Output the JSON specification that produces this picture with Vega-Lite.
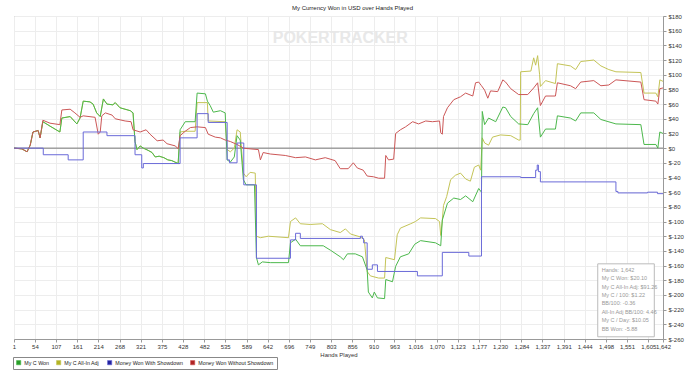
{
  "$schema": "https://vega.github.io/schema/vega-lite/v6.json",
  "width": 649,
  "height": 323,
  "autosize": {"type": "none"},
  "padding": {"left": 14, "top": 16, "right": 37, "bottom": 38},
  "background": "white",
  "title": {"text": "My Currency Won in USD over Hands Played", "fontSize": 6, "fontWeight": "normal", "color": "#222", "offset": 2, "dx": 14, "font": "Liberation Sans"},
  "config": {
    "font": "Liberation Sans",
    "view": {"stroke": "#aaa", "strokeWidth": 1},
    "axis": {"labelColor": "#333", "tickColor": "#999", "domainColor": "#999", "gridColor": "#ededed", "labelFont": "Liberation Sans", "titleFont": "Liberation Sans"}
  },
  "datasets": {
    "lines": [
      {"s":"My C Won","h":1,"v":0},{"s":"My C Won","h":21,"v":-1},{"s":"My C Won","h":34,"v":-5},{"s":"My C Won","h":42,"v":4},{"s":"My C Won","h":49,"v":22},{"s":"My C Won","h":62,"v":24},{"s":"My C Won","h":67,"v":14},{"s":"My C Won","h":74,"v":36},{"s":"My C Won","h":92,"v":30},{"s":"My C Won","h":117,"v":22},{"s":"My C Won","h":122,"v":41},{"s":"My C Won","h":143,"v":43},{"s":"My C Won","h":160,"v":33},{"s":"My C Won","h":168,"v":41},{"s":"My C Won","h":176,"v":64},{"s":"My C Won","h":193,"v":63},{"s":"My C Won","h":201,"v":60},{"s":"My C Won","h":210,"v":48},{"s":"My C Won","h":219,"v":43},{"s":"My C Won","h":227,"v":67},{"s":"My C Won","h":236,"v":60},{"s":"My C Won","h":251,"v":59},{"s":"My C Won","h":257,"v":62},{"s":"My C Won","h":269,"v":55},{"s":"My C Won","h":295,"v":51},{"s":"My C Won","h":302,"v":48},{"s":"My C Won","h":307,"v":9},{"s":"My C Won","h":312,"v":-2},{"s":"My C Won","h":320,"v":3},{"s":"My C Won","h":328,"v":0},{"s":"My C Won","h":340,"v":-3},{"s":"My C Won","h":350,"v":-6},{"s":"My C Won","h":358,"v":-12},{"s":"My C Won","h":368,"v":-11},{"s":"My C Won","h":380,"v":-13},{"s":"My C Won","h":390,"v":-16},{"s":"My C Won","h":400,"v":-17},{"s":"My C Won","h":416,"v":-21},{"s":"My C Won","h":421,"v":25},{"s":"My C Won","h":434,"v":36},{"s":"My C Won","h":459,"v":36},{"s":"My C Won","h":464,"v":75},{"s":"My C Won","h":485,"v":74},{"s":"My C Won","h":490,"v":64},{"s":"My C Won","h":497,"v":58},{"s":"My C Won","h":505,"v":49},{"s":"My C Won","h":523,"v":51},{"s":"My C Won","h":535,"v":48},{"s":"My C Won","h":540,"v":-16},{"s":"My C Won","h":548,"v":-19},{"s":"My C Won","h":558,"v":-12},{"s":"My C Won","h":565,"v":17},{"s":"My C Won","h":573,"v":11},{"s":"My C Won","h":581,"v":-43},{"s":"My C Won","h":588,"v":-50},{"s":"My C Won","h":609,"v":-50},{"s":"My C Won","h":614,"v":-149},{"s":"My C Won","h":619,"v":-159},{"s":"My C Won","h":629,"v":-155},{"s":"My C Won","h":649,"v":-156},{"s":"My C Won","h":695,"v":-156},{"s":"My C Won","h":700,"v":-129},{"s":"My C Won","h":713,"v":-124},{"s":"My C Won","h":725,"v":-133},{"s":"My C Won","h":783,"v":-133},{"s":"My C Won","h":801,"v":-139},{"s":"My C Won","h":826,"v":-148},{"s":"My C Won","h":834,"v":-152},{"s":"My C Won","h":844,"v":-144},{"s":"My C Won","h":864,"v":-144},{"s":"My C Won","h":882,"v":-148},{"s":"My C Won","h":894,"v":-166},{"s":"My C Won","h":897,"v":-196},{"s":"My C Won","h":907,"v":-204},{"s":"My C Won","h":912,"v":-196},{"s":"My C Won","h":920,"v":-204},{"s":"My C Won","h":938,"v":-205},{"s":"My C Won","h":941,"v":-179},{"s":"My C Won","h":958,"v":-182},{"s":"My C Won","h":966,"v":-161},{"s":"My C Won","h":978,"v":-148},{"s":"My C Won","h":999,"v":-144},{"s":"My C Won","h":1014,"v":-131},{"s":"My C Won","h":1029,"v":-126},{"s":"My C Won","h":1067,"v":-129},{"s":"My C Won","h":1080,"v":-133},{"s":"My C Won","h":1084,"v":-98},{"s":"My C Won","h":1097,"v":-75},{"s":"My C Won","h":1113,"v":-68},{"s":"My C Won","h":1130,"v":-70},{"s":"My C Won","h":1143,"v":-65},{"s":"My C Won","h":1161,"v":-73},{"s":"My C Won","h":1176,"v":-55},{"s":"My C Won","h":1183,"v":-60},{"s":"My C Won","h":1185,"v":50},{"s":"My C Won","h":1191,"v":32},{"s":"My C Won","h":1201,"v":41},{"s":"My C Won","h":1219,"v":36},{"s":"My C Won","h":1237,"v":56},{"s":"My C Won","h":1244,"v":55},{"s":"My C Won","h":1257,"v":43},{"s":"My C Won","h":1277,"v":33},{"s":"My C Won","h":1300,"v":32},{"s":"My C Won","h":1315,"v":47},{"s":"My C Won","h":1325,"v":55},{"s":"My C Won","h":1332,"v":15},{"s":"My C Won","h":1345,"v":26},{"s":"My C Won","h":1370,"v":26},{"s":"My C Won","h":1375,"v":44},{"s":"My C Won","h":1408,"v":41},{"s":"My C Won","h":1421,"v":37},{"s":"My C Won","h":1434,"v":48},{"s":"My C Won","h":1467,"v":48},{"s":"My C Won","h":1485,"v":39},{"s":"My C Won","h":1523,"v":33},{"s":"My C Won","h":1586,"v":32},{"s":"My C Won","h":1594,"v":5},{"s":"My C Won","h":1624,"v":5},{"s":"My C Won","h":1629,"v":0},{"s":"My C Won","h":1634,"v":22},{"s":"My C Won","h":1642,"v":20},

      {"s":"My C All-In Adj","h":1,"v":0},{"s":"My C All-In Adj","h":21,"v":-1},{"s":"My C All-In Adj","h":34,"v":-5},{"s":"My C All-In Adj","h":42,"v":4},{"s":"My C All-In Adj","h":49,"v":22},{"s":"My C All-In Adj","h":62,"v":24},{"s":"My C All-In Adj","h":67,"v":14},{"s":"My C All-In Adj","h":74,"v":36},{"s":"My C All-In Adj","h":92,"v":30},{"s":"My C All-In Adj","h":117,"v":22},{"s":"My C All-In Adj","h":122,"v":41},{"s":"My C All-In Adj","h":143,"v":43},{"s":"My C All-In Adj","h":160,"v":33},{"s":"My C All-In Adj","h":168,"v":41},{"s":"My C All-In Adj","h":176,"v":64},{"s":"My C All-In Adj","h":193,"v":63},{"s":"My C All-In Adj","h":201,"v":60},{"s":"My C All-In Adj","h":210,"v":48},{"s":"My C All-In Adj","h":219,"v":43},{"s":"My C All-In Adj","h":227,"v":67},{"s":"My C All-In Adj","h":236,"v":60},{"s":"My C All-In Adj","h":251,"v":59},{"s":"My C All-In Adj","h":257,"v":62},{"s":"My C All-In Adj","h":269,"v":55},{"s":"My C All-In Adj","h":295,"v":51},{"s":"My C All-In Adj","h":302,"v":48},{"s":"My C All-In Adj","h":307,"v":9},{"s":"My C All-In Adj","h":312,"v":-2},{"s":"My C All-In Adj","h":320,"v":3},{"s":"My C All-In Adj","h":328,"v":0},{"s":"My C All-In Adj","h":340,"v":-3},{"s":"My C All-In Adj","h":350,"v":-6},{"s":"My C All-In Adj","h":358,"v":-12},{"s":"My C All-In Adj","h":368,"v":-11},{"s":"My C All-In Adj","h":380,"v":-13},{"s":"My C All-In Adj","h":390,"v":-16},{"s":"My C All-In Adj","h":400,"v":-17},{"s":"My C All-In Adj","h":416,"v":-21},{"s":"My C All-In Adj","h":421,"v":22},{"s":"My C All-In Adj","h":434,"v":23},{"s":"My C All-In Adj","h":459,"v":23},{"s":"My C All-In Adj","h":464,"v":62},{"s":"My C All-In Adj","h":490,"v":62},{"s":"My C All-In Adj","h":492,"v":37},{"s":"My C All-In Adj","h":535,"v":36},{"s":"My C All-In Adj","h":540,"v":-2},{"s":"My C All-In Adj","h":548,"v":-5},{"s":"My C All-In Adj","h":558,"v":0},{"s":"My C All-In Adj","h":565,"v":25},{"s":"My C All-In Adj","h":573,"v":22},{"s":"My C All-In Adj","h":581,"v":-34},{"s":"My C All-In Adj","h":588,"v":-39},{"s":"My C All-In Adj","h":598,"v":-33},{"s":"My C All-In Adj","h":611,"v":-34},{"s":"My C All-In Adj","h":614,"v":-120},{"s":"My C All-In Adj","h":624,"v":-122},{"s":"My C All-In Adj","h":644,"v":-120},{"s":"My C All-In Adj","h":695,"v":-122},{"s":"My C All-In Adj","h":700,"v":-100},{"s":"My C All-In Adj","h":713,"v":-95},{"s":"My C All-In Adj","h":725,"v":-103},{"s":"My C All-In Adj","h":750,"v":-104},{"s":"My C All-In Adj","h":781,"v":-103},{"s":"My C All-In Adj","h":801,"v":-111},{"s":"My C All-In Adj","h":826,"v":-115},{"s":"My C All-In Adj","h":839,"v":-110},{"s":"My C All-In Adj","h":852,"v":-117},{"s":"My C All-In Adj","h":877,"v":-121},{"s":"My C All-In Adj","h":887,"v":-125},{"s":"My C All-In Adj","h":894,"v":-168},{"s":"My C All-In Adj","h":902,"v":-174},{"s":"My C All-In Adj","h":923,"v":-177},{"s":"My C All-In Adj","h":938,"v":-177},{"s":"My C All-In Adj","h":941,"v":-149},{"s":"My C All-In Adj","h":963,"v":-152},{"s":"My C All-In Adj","h":970,"v":-118},{"s":"My C All-In Adj","h":978,"v":-109},{"s":"My C All-In Adj","h":1004,"v":-103},{"s":"My C All-In Adj","h":1016,"v":-100},{"s":"My C All-In Adj","h":1029,"v":-95},{"s":"My C All-In Adj","h":1067,"v":-96},{"s":"My C All-In Adj","h":1077,"v":-100},{"s":"My C All-In Adj","h":1080,"v":-119},{"s":"My C All-In Adj","h":1084,"v":-98},{"s":"My C All-In Adj","h":1087,"v":-78},{"s":"My C All-In Adj","h":1095,"v":-66},{"s":"My C All-In Adj","h":1105,"v":-43},{"s":"My C All-In Adj","h":1117,"v":-37},{"s":"My C All-In Adj","h":1130,"v":-34},{"s":"My C All-In Adj","h":1143,"v":-42},{"s":"My C All-In Adj","h":1155,"v":-45},{"s":"My C All-In Adj","h":1165,"v":-26},{"s":"My C All-In Adj","h":1176,"v":-23},{"s":"My C All-In Adj","h":1181,"v":-30},{"s":"My C All-In Adj","h":1185,"v":14},{"s":"My C All-In Adj","h":1191,"v":7},{"s":"My C All-In Adj","h":1201,"v":4},{"s":"My C All-In Adj","h":1211,"v":15},{"s":"My C All-In Adj","h":1231,"v":18},{"s":"My C All-In Adj","h":1257,"v":17},{"s":"My C All-In Adj","h":1277,"v":11},{"s":"My C All-In Adj","h":1281,"v":11},{"s":"My C All-In Adj","h":1282,"v":104},{"s":"My C All-In Adj","h":1308,"v":105},{"s":"My C All-In Adj","h":1315,"v":123},{"s":"My C All-In Adj","h":1320,"v":113},{"s":"My C All-In Adj","h":1325,"v":126},{"s":"My C All-In Adj","h":1330,"v":100},{"s":"My C All-In Adj","h":1332,"v":84},{"s":"My C All-In Adj","h":1345,"v":92},{"s":"My C All-In Adj","h":1370,"v":88},{"s":"My C All-In Adj","h":1375,"v":115},{"s":"My C All-In Adj","h":1408,"v":112},{"s":"My C All-In Adj","h":1421,"v":107},{"s":"My C All-In Adj","h":1434,"v":118},{"s":"My C All-In Adj","h":1467,"v":120},{"s":"My C All-In Adj","h":1485,"v":112},{"s":"My C All-In Adj","h":1505,"v":107},{"s":"My C All-In Adj","h":1523,"v":104},{"s":"My C All-In Adj","h":1586,"v":103},{"s":"My C All-In Adj","h":1594,"v":75},{"s":"My C All-In Adj","h":1624,"v":75},{"s":"My C All-In Adj","h":1629,"v":70},{"s":"My C All-In Adj","h":1634,"v":93},{"s":"My C All-In Adj","h":1642,"v":91},

      {"s":"Money Won Without Showdown","h":1,"v":0},{"s":"Money Won Without Showdown","h":21,"v":-1},{"s":"Money Won Without Showdown","h":34,"v":-5},{"s":"Money Won Without Showdown","h":42,"v":4},{"s":"Money Won Without Showdown","h":49,"v":22},{"s":"Money Won Without Showdown","h":62,"v":24},{"s":"Money Won Without Showdown","h":67,"v":14},{"s":"Money Won Without Showdown","h":74,"v":38},{"s":"Money Won Without Showdown","h":92,"v":34},{"s":"Money Won Without Showdown","h":117,"v":32},{"s":"Money Won Without Showdown","h":122,"v":52},{"s":"Money Won Without Showdown","h":143,"v":53},{"s":"Money Won Without Showdown","h":155,"v":48},{"s":"Money Won Without Showdown","h":168,"v":42},{"s":"Money Won Without Showdown","h":176,"v":44},{"s":"Money Won Without Showdown","h":206,"v":42},{"s":"Money Won Without Showdown","h":214,"v":19},{"s":"Money Won Without Showdown","h":219,"v":22},{"s":"Money Won Without Showdown","h":223,"v":44},{"s":"Money Won Without Showdown","h":232,"v":48},{"s":"Money Won Without Showdown","h":249,"v":45},{"s":"Money Won Without Showdown","h":257,"v":40},{"s":"Money Won Without Showdown","h":282,"v":37},{"s":"Money Won Without Showdown","h":297,"v":36},{"s":"Money Won Without Showdown","h":302,"v":25},{"s":"Money Won Without Showdown","h":320,"v":22},{"s":"Money Won Without Showdown","h":335,"v":25},{"s":"Money Won Without Showdown","h":345,"v":19},{"s":"Money Won Without Showdown","h":363,"v":10},{"s":"Money Won Without Showdown","h":378,"v":11},{"s":"Money Won Without Showdown","h":388,"v":6},{"s":"Money Won Without Showdown","h":409,"v":3},{"s":"Money Won Without Showdown","h":416,"v":-1},{"s":"Money Won Without Showdown","h":421,"v":17},{"s":"Money Won Without Showdown","h":434,"v":23},{"s":"Money Won Without Showdown","h":447,"v":28},{"s":"Money Won Without Showdown","h":464,"v":29},{"s":"Money Won Without Showdown","h":485,"v":28},{"s":"Money Won Without Showdown","h":492,"v":19},{"s":"Money Won Without Showdown","h":510,"v":15},{"s":"Money Won Without Showdown","h":523,"v":14},{"s":"Money Won Without Showdown","h":535,"v":11},{"s":"Money Won Without Showdown","h":548,"v":9},{"s":"Money Won Without Showdown","h":565,"v":5},{"s":"Money Won Without Showdown","h":581,"v":0},{"s":"Money Won Without Showdown","h":598,"v":-1},{"s":"Money Won Without Showdown","h":619,"v":-2},{"s":"Money Won Without Showdown","h":624,"v":-16},{"s":"Money Won Without Showdown","h":631,"v":-6},{"s":"Money Won Without Showdown","h":649,"v":-8},{"s":"Money Won Without Showdown","h":687,"v":-10},{"s":"Money Won Without Showdown","h":713,"v":-13},{"s":"Money Won Without Showdown","h":738,"v":-12},{"s":"Money Won Without Showdown","h":763,"v":-16},{"s":"Money Won Without Showdown","h":788,"v":-13},{"s":"Money Won Without Showdown","h":813,"v":-17},{"s":"Money Won Without Showdown","h":826,"v":-28},{"s":"Money Won Without Showdown","h":846,"v":-28},{"s":"Money Won Without Showdown","h":859,"v":-20},{"s":"Money Won Without Showdown","h":869,"v":-27},{"s":"Money Won Without Showdown","h":884,"v":-30},{"s":"Money Won Without Showdown","h":894,"v":-38},{"s":"Money Won Without Showdown","h":910,"v":-39},{"s":"Money Won Without Showdown","h":923,"v":-41},{"s":"Money Won Without Showdown","h":938,"v":-41},{"s":"Money Won Without Showdown","h":941,"v":-10},{"s":"Money Won Without Showdown","h":948,"v":-16},{"s":"Money Won Without Showdown","h":961,"v":-15},{"s":"Money Won Without Showdown","h":966,"v":20},{"s":"Money Won Without Showdown","h":978,"v":25},{"s":"Money Won Without Showdown","h":991,"v":29},{"s":"Money Won Without Showdown","h":1009,"v":36},{"s":"Money Won Without Showdown","h":1024,"v":33},{"s":"Money Won Without Showdown","h":1042,"v":37},{"s":"Money Won Without Showdown","h":1059,"v":36},{"s":"Money Won Without Showdown","h":1077,"v":37},{"s":"Money Won Without Showdown","h":1080,"v":21},{"s":"Money Won Without Showdown","h":1084,"v":19},{"s":"Money Won Without Showdown","h":1087,"v":43},{"s":"Money Won Without Showdown","h":1097,"v":55},{"s":"Money Won Without Showdown","h":1113,"v":66},{"s":"Money Won Without Showdown","h":1130,"v":70},{"s":"Money Won Without Showdown","h":1143,"v":75},{"s":"Money Won Without Showdown","h":1161,"v":71},{"s":"Money Won Without Showdown","h":1168,"v":89},{"s":"Money Won Without Showdown","h":1176,"v":90},{"s":"Money Won Without Showdown","h":1183,"v":85},{"s":"Money Won Without Showdown","h":1191,"v":79},{"s":"Money Won Without Showdown","h":1199,"v":68},{"s":"Money Won Without Showdown","h":1206,"v":78},{"s":"Money Won Without Showdown","h":1224,"v":77},{"s":"Money Won Without Showdown","h":1237,"v":93},{"s":"Money Won Without Showdown","h":1244,"v":90},{"s":"Money Won Without Showdown","h":1257,"v":81},{"s":"Money Won Without Showdown","h":1277,"v":73},{"s":"Money Won Without Showdown","h":1300,"v":73},{"s":"Money Won Without Showdown","h":1315,"v":82},{"s":"Money Won Without Showdown","h":1325,"v":89},{"s":"Money Won Without Showdown","h":1332,"v":58},{"s":"Money Won Without Showdown","h":1345,"v":71},{"s":"Money Won Without Showdown","h":1370,"v":71},{"s":"Money Won Without Showdown","h":1375,"v":89},{"s":"Money Won Without Showdown","h":1408,"v":85},{"s":"Money Won Without Showdown","h":1421,"v":81},{"s":"Money Won Without Showdown","h":1434,"v":90},{"s":"Money Won Without Showdown","h":1467,"v":92},{"s":"Money Won Without Showdown","h":1485,"v":85},{"s":"Money Won Without Showdown","h":1505,"v":86},{"s":"Money Won Without Showdown","h":1523,"v":93},{"s":"Money Won Without Showdown","h":1586,"v":90},{"s":"Money Won Without Showdown","h":1594,"v":66},{"s":"Money Won Without Showdown","h":1624,"v":64},{"s":"Money Won Without Showdown","h":1629,"v":60},{"s":"Money Won Without Showdown","h":1634,"v":81},{"s":"Money Won Without Showdown","h":1642,"v":82},

      {"s":"Money Won With Showdown","h":1,"v":0},{"s":"Money Won With Showdown","h":75,"v":-9},{"s":"Money Won With Showdown","h":138,"v":-16},{"s":"Money Won With Showdown","h":176,"v":22},{"s":"Money Won With Showdown","h":236,"v":17},{"s":"Money Won With Showdown","h":307,"v":-9},{"s":"Money Won With Showdown","h":324,"v":-27},{"s":"Money Won With Showdown","h":328,"v":-21},{"s":"Money Won With Showdown","h":421,"v":14},{"s":"Money Won With Showdown","h":464,"v":47},{"s":"Money Won With Showdown","h":492,"v":35},{"s":"Money Won With Showdown","h":540,"v":-16},{"s":"Money Won With Showdown","h":546,"v":-20},{"s":"Money Won With Showdown","h":565,"v":7},{"s":"Money Won With Showdown","h":582,"v":-50},{"s":"Money Won With Showdown","h":614,"v":-150},{"s":"Money Won With Showdown","h":700,"v":-125},{"s":"Money Won With Showdown","h":713,"v":-116},{"s":"Money Won With Showdown","h":725,"v":-123},{"s":"Money Won With Showdown","h":877,"v":-120},{"s":"Money Won With Showdown","h":882,"v":-123},{"s":"Money Won With Showdown","h":885,"v":-129},{"s":"Money Won With Showdown","h":894,"v":-165},{"s":"Money Won With Showdown","h":907,"v":-159},{"s":"Money Won With Showdown","h":920,"v":-168},{"s":"Money Won With Showdown","h":1021,"v":-174},{"s":"Money Won With Showdown","h":1084,"v":-142},{"s":"Money Won With Showdown","h":1151,"v":-147},{"s":"Money Won With Showdown","h":1183,"v":-39},{"s":"Money Won With Showdown","h":1282,"v":-40},{"s":"Money Won With Showdown","h":1320,"v":-30},{"s":"Money Won With Showdown","h":1324,"v":-23},{"s":"Money Won With Showdown","h":1327,"v":-32},{"s":"Money Won With Showdown","h":1332,"v":-46},{"s":"Money Won With Showdown","h":1523,"v":-59},{"s":"Money Won With Showdown","h":1528,"v":-61},{"s":"Money Won With Showdown","h":1603,"v":-60},{"s":"Money Won With Showdown","h":1628,"v":-62},{"s":"Money Won With Showdown","h":1642,"v":-62}
    ],
    "zero": [{"h": 1, "v": 0}, {"h": 1642, "v": 0}],
    "mark": [{"h": 826, "v": 150, "t": "POKERTRACKER"}],
    "statsbox": [{"h": 1477, "h2": 1620, "v": -157.6, "v2": -257}],
    "stats": [{"h": 1487, "v": -163, "t": ["Hands: 1,642", "My C Won: $20.10", "My C All-In Adj: $91.26", "My C / 100: $1.22", "BB/100: -0.36", "All-In Adj BB/100: 4.46", "My C / Day: $10.05", "BB Won: -5.88"]}]
  },
  "encoding": {
    "x": {
      "field": "h", "type": "quantitative",
      "scale": {"domain": [1, 1642], "nice": false, "zero": false},
      "axis": {
        "values": [1,54,107,161,214,268,321,375,428,482,535,589,642,696,749,803,856,910,963,1016,1070,1123,1177,1230,1284,1337,1391,1444,1498,1551,1605,1642],
        "labelExpr": "format(datum.value, ',d')", "title": "Hands Played", "labelFontSize": 6, "titleFontSize": 6, "titleFontWeight": "normal", "titleColor": "#333",
        "tickSize": 3, "labelPadding": 1, "titlePadding": 2, "labelOverlap": false, "labelFlush": false, "labelBound": false, "grid": true
      }
    },
    "y": {
      "field": "v", "type": "quantitative",
      "scale": {"domain": [-260, 180], "nice": false, "zero": false},
      "axis": {
        "orient": "right",
        "values": [180,160,140,120,100,80,60,40,20,0,-20,-40,-60,-80,-100,-120,-140,-160,-180,-200,-220,-240,-260],
        "labelExpr": "'$' + datum.value", "title": null, "labelFontSize": 6, "tickSize": 3, "labelPadding": 2,
        "labelOverlap": false, "labelFlush": false, "labelBound": false, "grid": true
      }
    }
  },
  "layer": [
    {
      "data": {"name": "mark"},
      "mark": {"type": "text", "fontSize": 16, "fontWeight": "bold", "color": "#e8e8e8", "align": "center", "baseline": "middle", "font": "Liberation Sans"},
      "encoding": {"text": {"field": "t"}}
    },
    {
      "data": {"name": "zero"},
      "mark": {"type": "line", "color": "#777", "strokeWidth": 1},
      "encoding": {}
    },
    {
      "data": {"name": "lines"},
      "transform": [{"filter": "datum.s === 'My C All-In Adj'"}],
      "mark": {"type": "line", "strokeWidth": 1},
      "encoding": {
        "color": {
          "field": "s", "type": "nominal",
          "scale": {"domain": ["My C Won", "My C All-In Adj", "Money Won With Showdown", "Money Won Without Showdown"], "range": ["#4cb84c", "#c4c457", "#6a6ad8", "#cc5757"]},
          "legend": {
            "orient": "none", "legendX": -1, "legendY": 341, "direction": "horizontal", "columns": 4,
            "title": null, "strokeColor": "#888", "fillColor": "white", "padding": 3,
            "labelFontSize": 5.3, "labelColor": "#222", "labelOffset": 3, "columnPadding": 6,
            "symbolType": "square", "symbolSize": 18,
            "encode": {"symbols": {"update": {"fill": {"signal": "datum.value === 'My C Won' ? '#2a9e2a' : datum.value === 'My C All-In Adj' ? '#b4b424' : datum.value === 'Money Won With Showdown' ? '#2424a0' : '#b02424'"}, "stroke": {"value": "#333"}, "strokeWidth": {"value": 0.6}, "shape": {"value": "square"}, "opacity": {"value": 1}}}}
          }
        }
      }
    },
    {
      "data": {"name": "lines"},
      "transform": [{"filter": "datum.s === 'My C Won'"}],
      "mark": {"type": "line", "strokeWidth": 1},
      "encoding": {"color": {"field": "s", "type": "nominal"}}
    },
    {
      "data": {"name": "lines"},
      "transform": [{"filter": "datum.s === 'Money Won Without Showdown'"}],
      "mark": {"type": "line", "strokeWidth": 1},
      "encoding": {"color": {"field": "s", "type": "nominal"}}
    },
    {
      "data": {"name": "lines"},
      "transform": [{"filter": "datum.s === 'Money Won With Showdown'"}],
      "mark": {"type": "line", "strokeWidth": 1, "interpolate": "step-after"},
      "encoding": {"color": {"field": "s", "type": "nominal"}}
    },
    {
      "data": {"name": "statsbox"},
      "mark": {"type": "rect", "fill": "white", "stroke": "#bbb", "strokeWidth": 1},
      "encoding": {"x2": {"field": "h2"}, "y2": {"field": "v2"}}
    },
    {
      "data": {"name": "stats"},
      "mark": {"type": "text", "fontSize": 5.5, "color": "#999", "align": "left", "baseline": "top", "lineHeight": 8.4, "font": "Liberation Sans"},
      "encoding": {"text": {"field": "t"}}
    }
  ]
}
